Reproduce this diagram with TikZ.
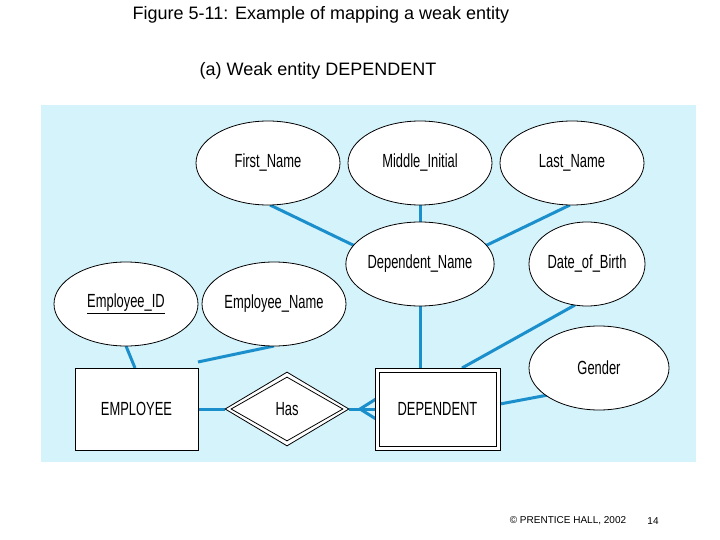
\documentclass[tikz,border=0pt]{standalone}
\usepackage{fontspec}
\setmainfont{Liberation Sans}
\usetikzlibrary{shapes.geometric}
\definecolor{panel}{HTML}{D5F3FB}
\definecolor{conn}{HTML}{1A8FCB}
\newcommand{\nt}[1]{\scalebox{0.68}[1]{\fontsize{19}{19}\selectfont #1}}
\begin{document}
\begin{tikzpicture}[x=1pt,y=-1pt,
  attr/.style={ellipse,draw,thick,fill=white,minimum width=144pt,minimum height=84pt,inner sep=0pt},
  conn/.style={draw=conn,line width=3pt},
  ent/.style={draw,thick,fill=white,minimum width=123pt,minimum height=82pt},
  ttl/.style={font=\fontsize{18}{18}\selectfont}]
\useasboundingbox (0,0) rectangle (720,540);
\fill[panel] (41,105) rectangle (696,462);
\coordinate (fnB) at (270,205); \coordinate (dnL) at (355,246);
\coordinate (lnB) at (570,205); \coordinate (dnR) at (485,246);
\coordinate (dobB) at (575,305); \coordinate (depT) at (462,368);
\coordinate (gL) at (548,395); \coordinate (depR) at (500,404);
\coordinate (eidB) at (126,346); \coordinate (empT) at (135,368);
\coordinate (enB) at (274,346); \coordinate (empT2) at (198,362);
\draw[conn] (fnB) -- (dnL);
\draw[conn] (420,205) -- (420,222);
\draw[conn] (lnB) -- (dnR);
\draw[conn] (420,306) -- (420,368);
\draw[conn] (dobB) -- (depT);
\draw[conn] (gL) -- (depR);
\draw[conn] (eidB) -- (empT);
\draw[conn] (enB) -- (empT2);
\draw[conn] (198,409) -- (225,409);
\draw[conn] (349,409) -- (375,409);
\draw[conn] (360,409) -- (376,399);
\draw[conn] (360,409) -- (376,419);
\node[attr] (fn) at (268,163) {\nt{First\_Name}};
\node[attr] (mi) at (420,163) {\nt{Middle\_Initial}};
\node[attr] (ln) at (572,163) {\nt{Last\_Name}};
\node[attr] (dn) at (420,264) {\nt{Dependent\_Name}};
\node[attr,minimum width=116pt] (dob) at (587,264) {\nt{Date\_of\_Birth}};
\node[attr] (eid) at (126,304) {\nt{\underline{Employee\_ID}}};
\node[attr] (en) at (274,304) {\nt{Employee\_Name}};
\node[attr,minimum width=140pt] (g) at (599,368) {\nt{Gender}};
\node[ent] (emp) at (136.5,409) {\nt{EMPLOYEE}};
\node[ent,minimum width=125pt] (dep) at (437.5,409) {};
\node[draw,thick,minimum width=117pt,minimum height=74pt] (depi) at (437.5,409) {\nt{DEPENDENT}};
\node[diamond,draw,thick,fill=white,minimum width=124pt,minimum height=74pt,aspect=1.7,inner sep=0pt] (has) at (287,409) {};
\node[diamond,draw,thick,minimum width=112pt,minimum height=64pt,aspect=1.7,inner sep=0pt] (hasi) at (287,409) {\nt{Has}};
\node[ttl] (t1) at (321,15) {Figure 5-11: Example of mapping a weak entity};
\node[ttl] (t2) at (318,71) {(a) Weak entity DEPENDENT};
\node[font=\fontsize{10}{10}\selectfont] (f1) at (568,521) {© PRENTICE HALL, 2002};
\node[font=\fontsize{10}{10}\selectfont] (f2) at (653,521) {14};
\end{tikzpicture}
\end{document}
